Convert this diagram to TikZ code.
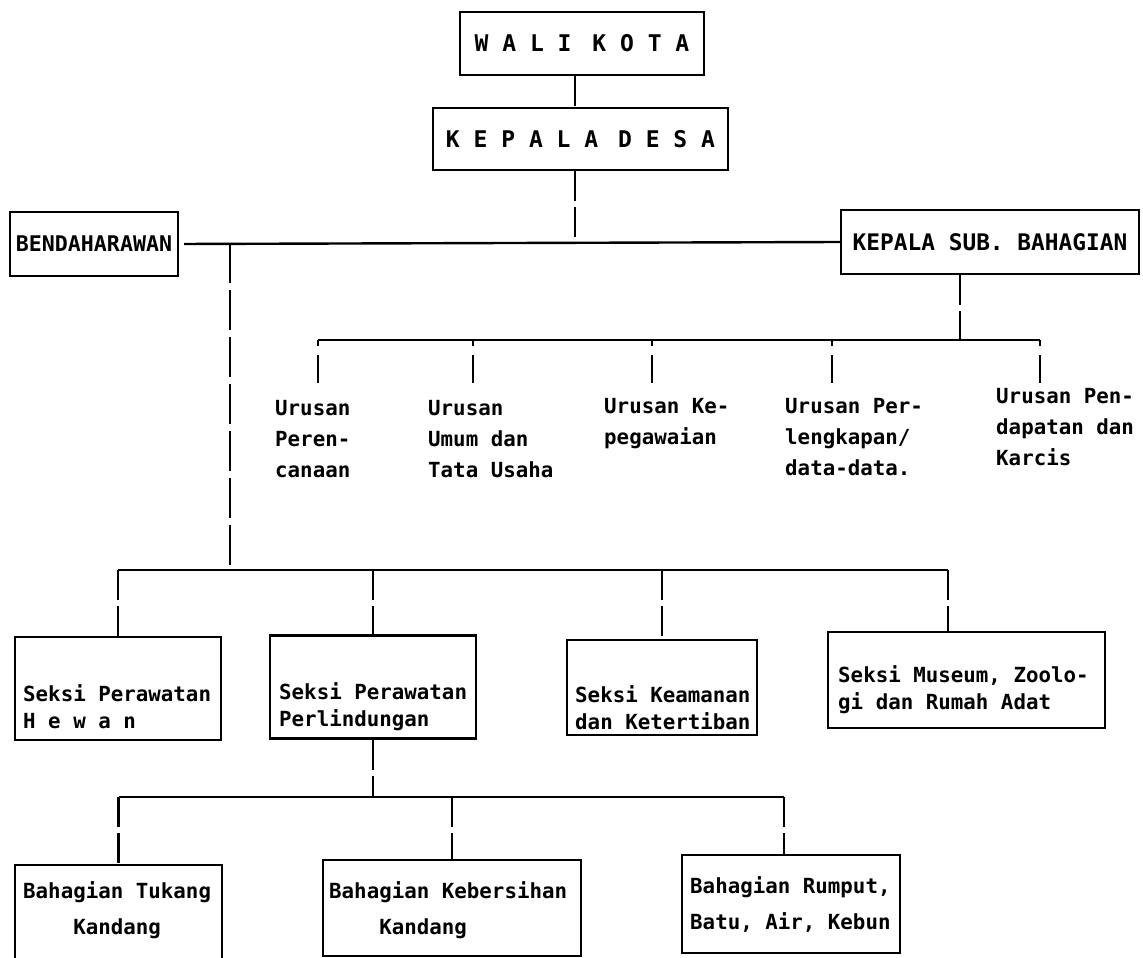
\documentclass[tikz,border=0pt]{standalone}
\usepackage{fontspec}
\newfontfamily\typ{DejaVu Sans Mono}
\begin{document}
\begin{tikzpicture}[x=1pt,y=-1pt,
  box/.style={draw, line width=2.4pt, inner sep=0pt, align=center},
  txt/.style={font=\typ\bfseries\fontsize{20.8}{27}\selectfont, inner sep=0pt, align=left},
  urtxt/.style={font=\typ\bfseries\fontsize{20.8}{31}\selectfont, inner sep=0pt, align=left},
  bhtxt/.style={font=\typ\bfseries\fontsize{20.8}{36}\selectfont, inner sep=0pt, align=left},
  head/.style={font=\typ\bfseries\fontsize{23}{27}\selectfont},
  hbar/.style={line width=2.4pt},
  vline/.style={line width=2.4pt, dash pattern=on 30pt off 6pt},
  tick/.style={line width=2.4pt, dash pattern=on 6pt off 9pt on 40pt off 1pt},
]
\useasboundingbox (0,0) rectangle (1143,958);
\clip (0,0) rectangle (1143,958);
\fill[white] (0,0) rectangle (1143,958);

% top boxes
\node[box, head, minimum width=244, minimum height=63] (wali) at (582,43.5) {W\ A\ L\ I\ \hspace{7pt}K\ O\ T\ A};
\node[box, head, minimum width=295, minimum height=62] (desa) at (580.5,139) {K\ E\ P\ A\ L\ A\ \hspace{6pt}D\ E\ S\ A};
\node[box, txt, font=\typ\bfseries\fontsize{21.6}{27}\selectfont, minimum width=168, minimum height=64] (bend) at (94,244) {BENDAHARAWAN};
\node[box, txt, font=\typ\bfseries\fontsize{22.8}{27}\selectfont, minimum width=298, minimum height=64] (ksb) at (990,242) {KEPALA SUB. BAHAGIAN};

% urusan texts
\node[urtxt, anchor=north west] (u1) at (275,400) {Urusan\\Peren-\\canaan};
\node[urtxt, anchor=north west] (u2) at (428,400) {Urusan\\Umum dan\\Tata Usaha};
\node[urtxt, anchor=north west] (u3) at (604,398) {Urusan Ke-\\pegawaian};
\node[urtxt, anchor=north west] (u4) at (785,398) {Urusan Per-\\lengkapan/\\data-data.};
\node[urtxt, anchor=north west] (u5) at (996,388) {Urusan Pen-\\dapatan dan\\Karcis};

% seksi boxes
\node[box, minimum width=206, minimum height=103] (hewan) at (118,688.5) {};
\node[txt, anchor=west] (hewanT) at (23,707) {Seksi Perawatan\\H e w a n};
\node[box, minimum width=206, minimum height=103] (perl) at (373,687) {};
\node[txt, anchor=west] (perlT) at (279,707) {Seksi Perawatan\\Perlindungan};
\node[box, minimum width=190, minimum height=95] (keam) at (662,687.5) {};
\node[txt, anchor=west] (keamT) at (575,708) {Seksi Keamanan\\dan Ketertiban};
\node[box, minimum width=277, minimum height=96] (mus) at (966.5,680) {};
\node[txt, anchor=west] (musT) at (838,690) {Seksi Museum, Zoolo-\\gi dan Rumah Adat};

% bahagian boxes
\node[box, minimum width=207, minimum height=110] (tukang) at (118.5,920) {};
\node[bhtxt, anchor=west] (tukangT) at (23,910) {Bahagian Tukang\\\phantom{xxxx}Kandang};
\node[box, minimum width=258, minimum height=96] (keber) at (452,908) {};
\node[bhtxt, anchor=west] (keberT) at (329,910) {Bahagian Kebersihan\\\phantom{xxxx}Kandang};
\node[box, minimum width=218, minimum height=98] (rumput) at (791,904) {};
\node[bhtxt, anchor=west] (rumputT) at (690,904) {Bahagian Rumput,\\Batu, Air, Kebun};

% connectors top
\coordinate (sp) at (575,243);
\draw[vline] (wali.south -| sp) -- (desa.north -| sp);
\draw[vline] (desa.south -| sp) -- (sp);
\draw[hbar, shorten <=5pt] (bend.east) -- (ksb.west);

% urusan
\coordinate (kv) at (960,340);
\draw[vline] (ksb.south -| kv) -- (kv);
\coordinate (ut1) at (318,340);
\coordinate (ut2) at (473,340);
\coordinate (ut3) at (652,340);
\coordinate (ut4) at (832,340);
\coordinate (ut5) at (1040,340);
\draw[hbar] (ut1) -- (ut5);
\draw[tick, shorten >=17pt] (ut1) -- (ut1 |- u1.north);
\draw[tick, shorten >=17pt] (ut2) -- (ut2 |- u2.north);
\draw[tick, shorten >=15pt] (ut3) -- (ut3 |- u3.north);
\draw[tick, shorten >=15pt] (ut4) -- (ut4 |- u4.north);
\draw[tick, shorten >=5pt] (ut5) -- (ut5 |- u5.north);

% seksi
\coordinate (bj) at (230,243);
\coordinate (sb) at (230,570);
\coordinate (sbR) at (948,570);
\draw[vline, dash pattern=on 40pt off 7pt] (bj) -- (sb);
\draw[hbar] (hewan.north |- sb) -- (sbR);
\draw[vline] (hewan.north |- sb) -- (hewan.north);
\draw[vline] (perl.north |- sb) -- (perl.north);
\draw[vline] (keam.north |- sb) -- (keam.north);
\draw[vline] (sbR) -- (sbR |- mus.north);

% bahagian
\coordinate (bb) at (373,797);
\coordinate (bbR) at (784,797);
\draw[vline] (perl.south) -- (perl.south |- bb);
\draw[hbar] (tukang.north |- bb) -- (bbR);
\draw[vline] (tukang.north |- bb) -- (tukang.north);
\draw[vline] (keber.north |- bb) -- (keber.north);
\draw[vline] (bbR) -- (bbR |- rumput.north);
\end{tikzpicture}
\end{document}
